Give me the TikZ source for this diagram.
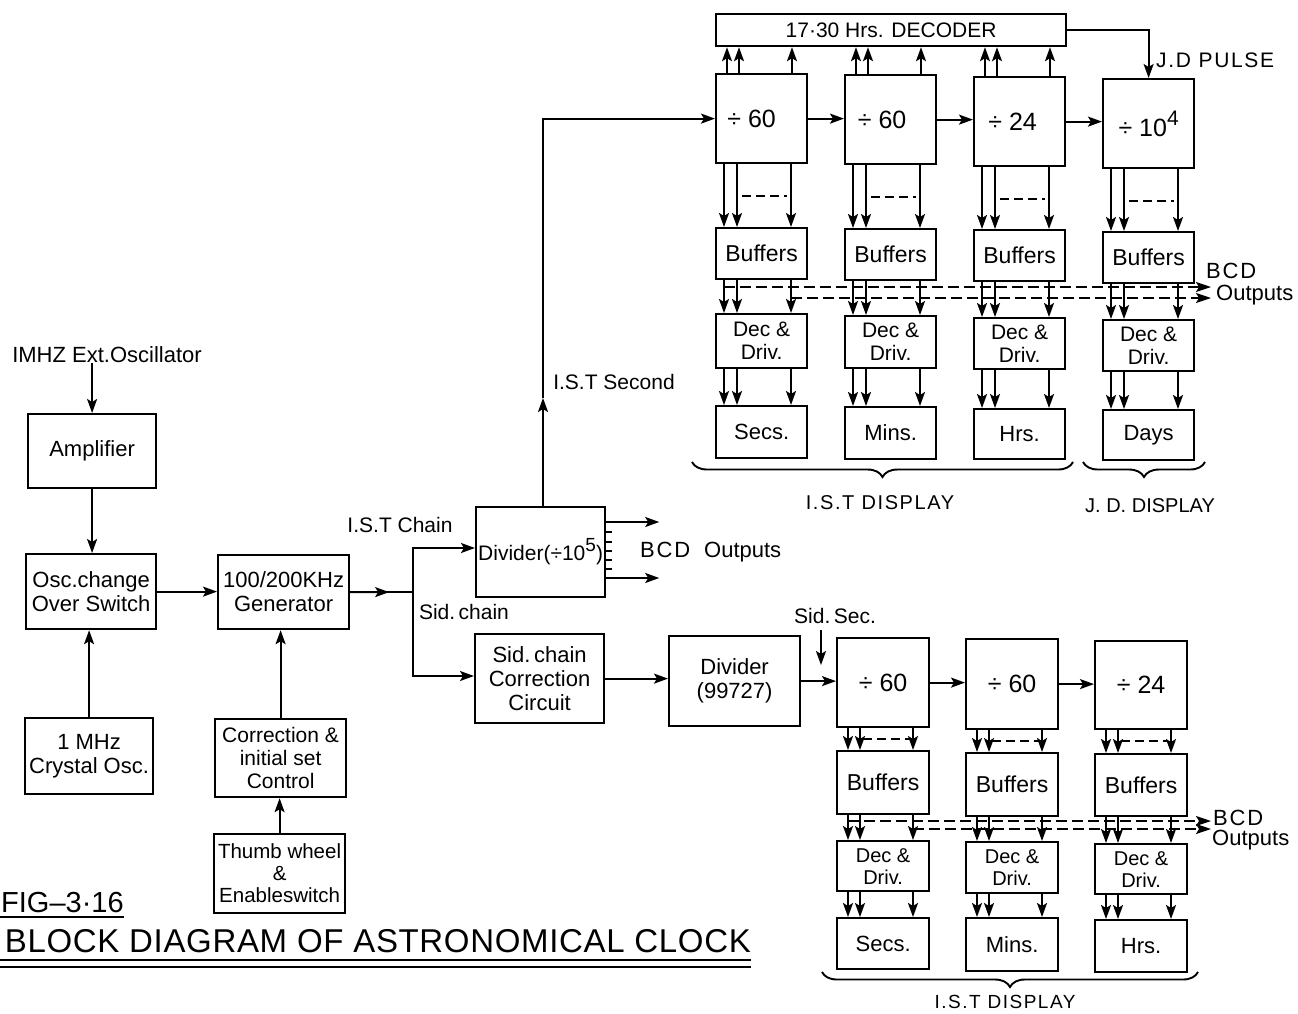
\documentclass[tikz,border=0pt]{standalone}
\usepackage{fontspec}
\setmainfont{Liberation Sans}
\newfontfamily\lsfont[LetterSpace=8]{Liberation Sans}
\newfontfamily\ttlfont[LetterSpace=2]{Liberation Sans}
\usetikzlibrary{arrows.meta,calc,decorations.pathreplacing}
\tikzset{
  box/.style={draw, line width=2.2pt, inner sep=0pt, align=center, font=\fontsize{22}{24}\selectfont},
  arr/.style={line width=1.9pt, -{Stealth[length=14pt,width=10pt,inset=3pt]}},
  ln/.style={line width=1.9pt},
  dsh/.style={line width=1.8pt, dash pattern=on 9pt off 5pt},
  bcd/.style={line width=1.8pt, dash pattern=on 11pt off 5pt, -{Stealth[length=15pt,width=10pt,inset=3pt]}},
  lbl/.style={inner sep=0pt, font=\fontsize{21}{23}\selectfont},
  brc/.style={line width=1.9pt, decorate, decoration={brace, mirror, amplitude=15pt}},
  divf/.style={font=\fontsize{25}{27}\selectfont},
  buff/.style={font=\fontsize{23}{25}\selectfont},
  decf/.style={font=\fontsize{21}{23}\selectfont},
}
\newcommand\mybox[7][]{\node[box,anchor=north west,minimum width=#5,minimum height=#6,#1] (#2) at (#3,#4) {#7};}
\newcommand\vcon[4]{\draw[#1] let \p1=(#2), \p2=(#3) in (\x1+#4pt,\y1) -- (\x1+#4pt,\y2);}
\begin{document}
\begin{tikzpicture}[x=1pt,y=-1pt]
\fill[white] (0,0) rectangle (1298,1013);
\useasboundingbox (0,0) rectangle (1298,1013);

% ---------------- left part ----------------
\node[lbl, font=\fontsize{22}{24}\selectfont] (ext) at (107,355) {IMHZ Ext.Oscillator};
\mybox{amp}{27}{413}{128}{74}{Amplifier}
\mybox{osc}{25}{553}{130}{75}{Osc.change\\Over Switch}
\mybox{gen}{217}{554}{131}{74}{100/200KHz\\Generator}
\mybox{crys}{24}{717}{128}{76}{1 MHz\\Crystal Osc.}
\mybox[font=\fontsize{21}{23}\selectfont]{corr}{214}{718}{131}{78}{Correction \&\\initial set\\Control}
\mybox[font=\fontsize{20.5}{22}\selectfont]{thumb}{213}{833}{131}{79}{Thumb wheel\\\&\\Enableswitch}

\draw[arr] (ext.south -| amp.north) -- (amp.north);
\draw[arr] (amp.south) -- (amp.south |- osc.north);
\draw[arr] (crys.north) -- (crys.north |- osc.south);
\draw[arr] (osc.east) -- (osc.east -| gen.west);
\draw[arr] (corr.north) -- (corr.north |- gen.south);
\draw[arr] (thumb.north) -- (thumb.north |- corr.south);

% ---------------- chains ----------------
\mybox[font=\fontsize{21}{23}\selectfont]{divA}{475}{506}{129}{90}{Divider(÷10\raisebox{9pt}{\fontsize{19}{19}\selectfont 5})}
\mybox{sidc}{474}{633}{129}{89}{Sid.\,chain\\Correction\\Circuit}
\mybox{divB}{668}{635}{131}{90}{Divider\\(99727)}

\coordinate (jt) at (413,548);
\coordinate (jb) at (413,676);
\draw[ln] (gen.east) -- (gen.east -| jt);
\draw[arr] (gen.east) -- ($(gen.east)!0.62!(gen.east -| jt)$);
\draw[arr] (jb) -- (jt) -- (jt -| divA.west);
\draw[arr] (jt) -- (jb) -- (jb -| sidc.west);
\node[lbl] (istc) at (400,525) {I.S.T Chain};
\node[lbl] (sidl) at (464,612) {Sid.\,chain};

\draw[arr] let \p1=(divA.north east) in (\x1,\y1-16pt) -- (\x1+53pt,\y1-16pt);
\draw[arr] let \p1=(divA.north east) in (\x1,\y1-72pt) -- (\x1+53pt,\y1-72pt);
\foreach \d in {26,36,45,54,63}{\draw[ln] let \p1=(divA.north east) in (\x1,\y1-\d pt) -- (\x1+6pt,\y1-\d pt);}
\node[lbl, anchor=west, font=\fontsize{22}{24}\selectfont] (bcd0) at (640,552) {{\lsfont BCD}\hspace*{14pt}Outputs};

\draw[arr] (sidc.east) -- (sidc.east -| divB.west);

% ---------------- upper I.S.T / J.D chain ----------------
\mybox[font=\fontsize{21}{23}\selectfont]{dec}{715}{13}{350}{32}{17·30 Hrs. DECODER}
\mybox[divf]{b1}{715}{73}{91}{89}{÷ 60\hspace*{20pt}}
\mybox[divf]{b2}{844}{74}{91}{89}{÷ 60\hspace*{17pt}}
\mybox[divf]{b3}{973}{76}{91}{89}{÷ 24\hspace*{14pt}}
\mybox[divf]{b4}{1102}{78}{91}{89}{÷ 10\raisebox{11pt}{\fontsize{21}{21}\selectfont 4}}
\mybox[buff]{ub1}{715}{227}{91}{51}{Buffers}
\mybox[buff]{ub2}{844}{228}{91}{51}{Buffers}
\mybox[buff]{ub3}{973}{229}{91}{51}{Buffers}
\mybox[buff]{ub4}{1102}{231}{91}{51}{Buffers}
\mybox[decf]{ud1}{715}{313}{91}{54}{Dec \&\\Driv.}
\mybox[decf]{ud2}{844}{315}{91}{52}{Dec \&\\Driv.}
\mybox[decf]{ud3}{973}{317}{91}{51}{Dec \&\\Driv.}
\mybox[decf]{ud4}{1102}{319}{91}{51}{Dec \&\\Driv.}
\mybox{us1}{715}{405}{91}{52}{Secs.}
\mybox{us2}{844}{406}{91}{52}{Mins.}
\mybox{us3}{973}{408}{91}{50}{Hrs.}
\mybox{us4}{1102}{409}{91}{50}{Days}

\coordinate (istm) at (543,398);
\draw[arr] (istm |- divA.north) -- (istm);
\draw[arr] (istm) -- (istm |- b1.west) -- (b1.west);
\node[lbl] (ists) at (614,382) {I.S.T Second};

\draw[arr] (b1.east) -- (b1.east -| b2.west);
\draw[arr] (b2.east) -- (b2.east -| b3.west);
\draw[arr] (b3.east) -- (b3.east -| b4.west);
\draw[arr] (dec.east) -| (b4.north);
\node[lbl, anchor=west, font=\fontsize{21}{23}\lsfont] (jdp) at (1156,60) {J.D PULSE};

\foreach \col in {1,2,3}{\foreach \off in {12,24,77}{\vcon{arr}{b\col.north west}{dec.south}{\off}}}
\foreach \col in {1,2,3,4}{
  \foreach \off in {9,22,76}{
    \vcon{arr}{b\col.south west}{ub\col.north}{\off}
    \vcon{arr}{ub\col.south west}{ud\col.north}{\off}
    \vcon{arr}{ud\col.south west}{us\col.north}{\off}
  }
  \draw[dsh] let \p1=(b\col.south west) in (\x1+27pt,\y1-32pt) -- (\x1+72pt,\y1-32pt);
}
\coordinate (bcdA) at (1211,287);
\coordinate (bcdB) at (1211,298);
\draw[bcd] let \p1=(ub1.south west), \p2=(bcdA) in (\x1+9pt,\y2) -- (bcdA);
\draw[bcd] let \p1=(ub1.south west), \p2=(bcdB) in (\x1+76pt,\y2) -- (bcdB);
\node[lbl, anchor=west, font=\fontsize{22}{24}\lsfont] (bcdU1) at (1206,271) {BCD};
\node[lbl, anchor=west, font=\fontsize{22}{24}\selectfont] (bcdU2) at (1216,295) {Outputs};

\coordinate (brA1) at (692,462); \coordinate (brA2) at (1073,462);
\draw[brc] (brA1) -- (brA2);
\node[lbl, font=\fontsize{20}{22}\lsfont] (istd) at (880,503) {I.S.T DISPLAY};
\coordinate (brB1) at (1083,462); \coordinate (brB2) at (1205,462);
\draw[brc] (brB1) -- (brB2);
\node[lbl, font=\fontsize{20}{22}\selectfont] (jdd) at (1150,506) {J. D. DISPLAY};

% ---------------- lower sidereal chain ----------------
\mybox[divf]{lb1}{836}{637}{92}{89}{÷ 60}
\mybox[divf]{lb2}{965}{638}{92}{90}{÷ 60}
\mybox[divf]{lb3}{1094}{640}{92}{88}{÷ 24}
\mybox[buff]{lbuf1}{836}{750}{92}{63}{Buffers}
\mybox[buff]{lbuf2}{965}{752}{92}{63}{Buffers}
\mybox[buff]{lbuf3}{1094}{753}{92}{62}{Buffers}
\mybox[font=\fontsize{20}{22}\selectfont]{ldec1}{836}{840}{92}{50}{Dec \&\\Driv.}
\mybox[font=\fontsize{20}{22}\selectfont]{ldec2}{965}{841}{92}{51}{Dec \&\\Driv.}
\mybox[font=\fontsize{20}{22}\selectfont]{ldec3}{1094}{843}{92}{50}{Dec \&\\Driv.}
\mybox{ldisp1}{836}{917}{92}{51}{Secs.}
\mybox{ldisp2}{965}{917}{92}{53}{Mins.}
\mybox{ldisp3}{1094}{919}{92}{52}{Hrs.}

\draw[arr] (divB.east) -- (divB.east -| lb1.west);
\draw[arr] (lb1.east) -- (lb1.east -| lb2.west);
\draw[arr] (lb2.east) -- (lb2.east -| lb3.west);
\node[lbl] (sids) at (835,616) {Sid.\,Sec.};
\coordinate (ss1) at (821,630); \coordinate (ss2) at (821,665);
\draw[arr] (ss1) -- (ss2);

\foreach \col in {1,2,3}{
  \foreach \off in {12,24,77}{
    \vcon{arr}{lb\col.south west}{lbuf\col.north}{\off}
    \vcon{arr}{lbuf\col.south west}{ldec\col.north}{\off}
    \vcon{arr}{ldec\col.south west}{ldisp\col.north}{\off}
  }
  \draw[dsh] let \p1=(lb\col.south west) in (\x1+27pt,\y1-11pt) -- (\x1+74pt,\y1-11pt);
}
\coordinate (bcdC) at (1211,821);
\coordinate (bcdD) at (1211,829);
\draw[bcd] let \p1=(lbuf1.south west), \p2=(bcdC) in (\x1+12pt,\y2) -- (bcdC);
\draw[bcd] let \p1=(lbuf1.south west), \p2=(bcdD) in (\x1+77pt,\y2) -- (bcdD);
\node[lbl, anchor=west, font=\fontsize{22}{24}\lsfont] (bcdL1) at (1213,818) {BCD};
\node[lbl, anchor=west, font=\fontsize{22}{24}\selectfont] (bcdL2) at (1212,840) {Outputs};

\coordinate (brC1) at (822,972); \coordinate (brC2) at (1198,972);
\draw[brc] (brC1) -- (brC2);
\node[lbl, font=\fontsize{19}{21}\lsfont] (istd2) at (1005,1002) {I.S.T DISPLAY};

% ---------------- caption ----------------
\node[anchor=base west, inner sep=0pt, font=\fontsize{29}{31}\selectfont] (fig) at (1,912) {FIG–3·16};
\draw[ln] (0,917) -- ([yshift=-5pt]fig.base east);
\node[anchor=base east, inner sep=0pt, font=\fontsize{33}{35}\ttlfont] (title) at (751,952) {BLOCK DIAGRAM OF ASTRONOMICAL CLOCK};
\draw[ln] (0,960) -- (title.base east |- 0,960);
\draw[ln] (0,967) -- (title.base east |- 0,967);
\end{tikzpicture}
\end{document}
